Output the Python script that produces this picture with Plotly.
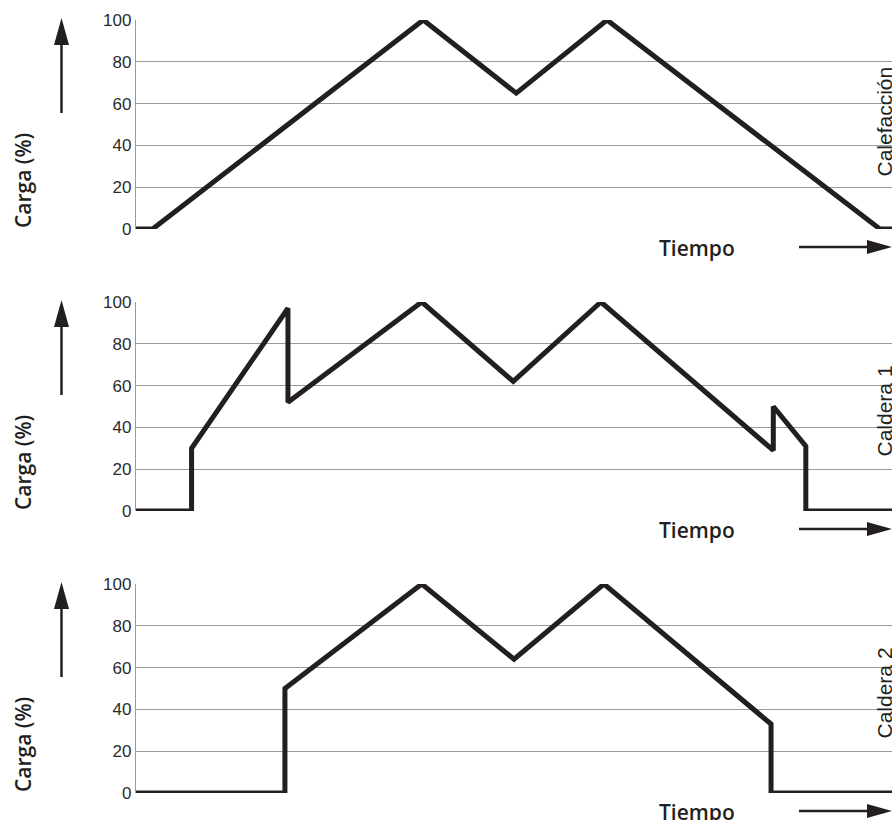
import plotly.graph_objects as go
from plotly.subplots import make_subplots

# ---- data (time in arbitrary units 0-100, load in %) ----
calef_t = [0, 2.2, 38.0, 50.3, 62.3, 98.4, 100]
calef_v = [0, 0, 100, 65, 100, 0, 0]

cald1_t = [0, 7.35, 7.35, 20.1, 20.1, 37.8, 49.9, 61.5, 84.3, 84.3, 88.6, 88.6, 100]
cald1_v = [0, 0, 30, 97, 52, 100, 62, 100, 29, 50, 31, 0, 0]

cald2_t = [0, 19.7, 19.7, 37.8, 50.0, 61.9, 84.0, 84.0, 100]
cald2_v = [0, 0, 50, 100, 64, 100, 33, 0, 0]

panel_names = ["Calefacción", "Caldera 1", "Caldera 2"]
y_ticks = [0, 20, 40, 60, 80, 100]
y_title = "Carga (%)"
x_title = "Tiempo"

W, H = 892, 820
series = [(calef_t, calef_v), (cald1_t, cald1_v), (cald2_t, cald2_v)]

fig = make_subplots(rows=3, cols=1)

panel_top = [20, 302, 584]
panel_h = 209
x0_px = 136

def px(x):
    return x / W

def py(y):
    return 1 - y / H

LINE = "#231f20"
GRID = "#9a9a9a"
TXT = "#231f20"
LABEL_FONT = "Open Sans"

for i, (t, v) in enumerate(series):
    r = i + 1
    fig.add_trace(go.Scatter(x=t, y=v, mode="lines", cliponaxis=False,
                             line=dict(color=LINE, width=5),
                             showlegend=False, hoverinfo="skip"), row=r, col=1)
    top = panel_top[i]
    bot = top + panel_h
    yax = "yaxis" if r == 1 else f"yaxis{r}"
    xax = "xaxis" if r == 1 else f"xaxis{r}"
    fig.layout[yax].update(domain=[py(bot), py(top)], range=[0, 100],
                           tickvals=y_ticks, showgrid=True, gridcolor=GRID,
                           gridwidth=1.3, zeroline=False, showline=True,
                           linecolor=GRID, linewidth=1.3, ticks="",
                           automargin=False,
                           tickfont=dict(family="Liberation Sans, Arial", size=17, color="#2b2b2b"),
                           fixedrange=True)
    fig.layout[xax].update(domain=[px(x0_px), 1], range=[0, 100], showgrid=False,
                           zeroline=False, showline=False, showticklabels=False,
                           automargin=False, ticks="", fixedrange=True)

    off = 282 * i
    # up arrow
    fig.add_shape(type="line", xref="paper", yref="paper",
                  x0=px(61.5), x1=px(61.5), y0=py(113 + off), y1=py(42 + off),
                  line=dict(color=LINE, width=2.5))
    fig.add_shape(type="path", xref="paper", yref="paper",
                  path=f"M {px(54)} {py(45+off)} L {px(69)} {py(45+off)} L {px(61.5)} {py(18+off)} Z",
                  fillcolor=LINE, line=dict(width=0))
    # right arrow
    ya = 247 + off
    fig.add_shape(type="line", xref="paper", yref="paper",
                  x0=px(799), x1=px(870), y0=py(ya), y1=py(ya),
                  line=dict(color=LINE, width=2.5))
    fig.add_shape(type="path", xref="paper", yref="paper",
                  path=f"M {px(867)} {py(ya-7)} L {px(867)} {py(ya+7)} L {px(892)} {py(ya)} Z",
                  fillcolor=LINE, line=dict(width=0))
    # texts
    fig.add_annotation(xref="paper", yref="paper", x=px(23), y=py(181 + off),
                       text=y_title, textangle=-90, showarrow=False,
                       xanchor="center", yanchor="middle",
                       font=dict(family=LABEL_FONT, size=21, color=TXT, weight=600))
    fig.add_annotation(xref="paper", yref="paper", x=px(697), y=py(248 + off),
                       text=x_title, showarrow=False,
                       xanchor="center", yanchor="middle",
                       font=dict(family=LABEL_FONT, size=21, color=TXT, weight=600))
    centers = [122, 411 - 282, 693 - 564]
    fig.add_annotation(xref="paper", yref="paper", x=px(883.5), y=py(centers[i] + off),
                       text=panel_names[i], textangle=-90, showarrow=False,
                       xanchor="center", yanchor="middle",
                       font=dict(family="Liberation Sans, Arial", size=21, color=TXT))

fig.update_layout(width=W, height=H, margin=dict(l=0, r=0, t=0, b=0, autoexpand=False),
                  paper_bgcolor="white", plot_bgcolor="white")

fig.write_html("out.html", config={"displayModeBar": False},
               post_script="document.body.style.margin='0';document.body.style.overflow='hidden';")
